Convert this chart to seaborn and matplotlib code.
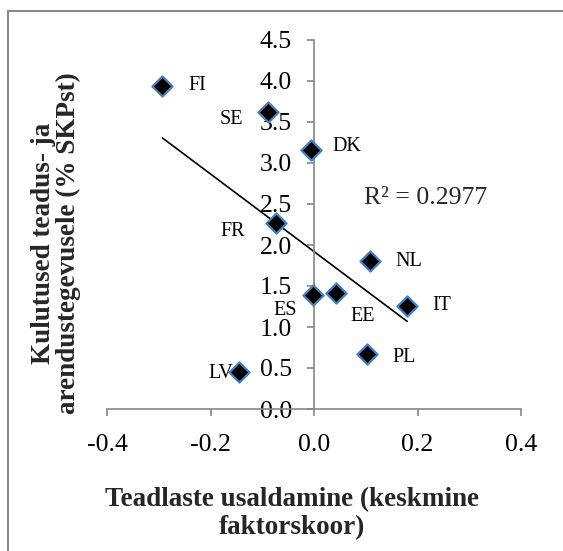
import matplotlib
matplotlib.use("Agg")
import matplotlib.pyplot as plt
import seaborn as sns
import numpy as np
import pandas as pd
from matplotlib.patches import Rectangle

# ---- data ----
countries = ["FI", "SE", "DK", "FR", "NL", "ES", "EE", "IT", "PL", "LV"]
trust = [-0.293, -0.088, -0.006, -0.073, 0.109, -0.002, 0.042, 0.180, 0.102, -0.145]
rd_spend = [3.94, 3.62, 3.16, 2.27, 1.80, 1.39, 1.41, 1.26, 0.67, 0.45]
trend_slope = -4.73
trend_intercept = 1.92
r_squared = 0.2977
x_ticks = [-0.4, -0.2, 0.0, 0.2, 0.4]
y_ticks = [0.0, 0.5, 1.0, 1.5, 2.0, 2.5, 3.0, 3.5, 4.0, 4.5]
x_title = "Teadlaste usaldamine (keskmine\nfaktorskoor)"
y_title = "Kulutused teadus- ja\narendustegevusele (% SKPst)"

# label placement (offset in pixels, horizontal alignment)
label_pos = {
    "FI": (26, 0, "left"), "SE": (-25, -7, "right"), "DK": (22, 3, "left"),
    "FR": (-31, -9, "right"), "NL": (25, 0, "left"), "ES": (-16, -15, "right"),
    "EE": (27, -23, "center"), "IT": (25, 0, "left"), "PL": (26, -3, "left"),
    "LV": (-6, -1, "right"),
}

df = pd.DataFrame({"country": countries, "trust": trust, "rd": rd_spend})

sns.set_theme(style="white")
plt.rcParams["font.family"] = ["Liberation Serif", "DejaVu Serif"]

fig = plt.figure(figsize=(5.63, 5.51), dpi=100)
ax = fig.add_axes([107 / 563, 1 - 409 / 551, (521 - 107) / 563, (409 - 40) / 551])

# trend line
tx = np.array([min(trust), max(trust)])
trend_df = pd.DataFrame({"x": tx, "y": trend_intercept + trend_slope * tx})
sns.lineplot(data=trend_df, x="x", y="y", ax=ax, color="black", linewidth=1.2, zorder=2)

# points
sns.scatterplot(data=df, x="trust", y="rd", ax=ax, marker="D", s=105,
                color="black", edgecolor="#4a7ebb", linewidth=1.6, zorder=3)

for c, xv, yv in zip(countries, trust, rd_spend):
    dx, dy, ha = label_pos[c]
    ax.annotate(c, (xv, yv), xytext=(dx, dy), textcoords="offset pixels",
                ha=ha, va="center", fontsize=14.5, color="black")

ax.text(0.096, 2.57, f"R² = {r_squared:.4f}", fontsize=18.5, ha="left", va="center")

ax.set_xlim(-0.4, 0.4)
ax.set_ylim(0, 4.5)
ax.set_xticks(x_ticks)
ax.set_xticklabels([f"{v:.1f}" for v in x_ticks])
ax.set_yticks(y_ticks)
ax.set_yticklabels([f"{v:.1f}" for v in y_ticks])
ax.set_xlabel("")
ax.set_ylabel("")

for s in ["top", "right"]:
    ax.spines[s].set_visible(False)
ax.spines["left"].set_position(("data", 0))
for s in ["left", "bottom"]:
    ax.spines[s].set_color("#868686")
    ax.spines[s].set_linewidth(1.2)
ax.tick_params(axis="both", which="major", direction="out", length=5,
               width=1.2, color="#868686", labelsize=18.5, labelcolor="black")
ax.tick_params(axis="x", bottom=True, pad=13)
ax.tick_params(axis="y", left=True, pad=11)
ax.patch.set_alpha(0)

fig.text(292 / 563, 1 - 514 / 551, x_title, ha="center", va="center",
         fontsize=19.5, fontweight="bold", multialignment="center", linespacing=1.15)
fig.text(56 / 563, 1 - 243 / 551, y_title, ha="center", va="center", rotation=90,
         fontsize=19.5, fontweight="bold", multialignment="center", linespacing=0.95)

fig.patches.append(Rectangle((8 / 563, -0.1), 1.2, 1 - 11 / 551 + 0.1,
                             transform=fig.transFigure, fill=False,
                             edgecolor="#898989", linewidth=1.5))

fig.savefig("out.png", dpi=100)
